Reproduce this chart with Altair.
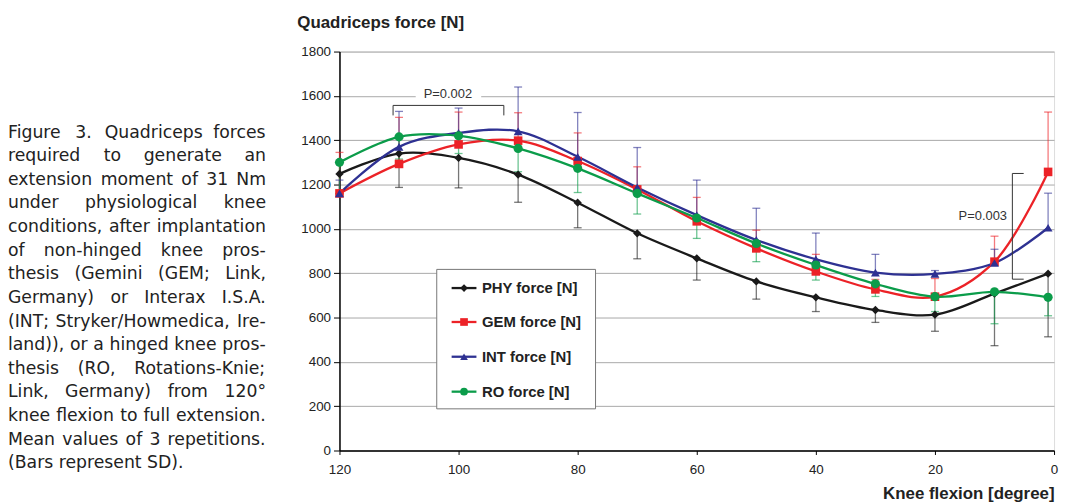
import altair as alt
import pandas as pd

# ---------------- data ----------------
angles = [120, 110, 100, 90, 80, 70, 60, 50, 40, 30, 20, 10, 1]
series_names = ["PHY force [N]", "GEM force [N]", "INT force [N]", "RO force [N]"]
phy = [1248, 1340, 1320, 1245, 1118, 980, 867, 763, 691, 634, 613, 708, 798]
phy_sd = [90, 153, 135, 125, 113, 115, 98, 80, 64, 56, 75, 235, 285]
gem = [1160, 1293, 1381, 1398, 1306, 1178, 1034, 912, 808, 727, 694, 852, 1257]
gem_sd = [185, 210, 146, 126, 127, 102, 108, 82, 77, 45, 82, 115, 270]
intx = [1160, 1370, 1433, 1440, 1325, 1187, 1062, 950, 863, 803, 797, 846, 1005]
int_sd = [60, 160, 112, 200, 200, 180, 158, 143, 118, 82, 15, 62, 156]
ro = [1300, 1415, 1420, 1363, 1273, 1160, 1049, 934, 837, 752, 694, 716, 691]
ro_sd = [140, 100, 80, 105, 109, 93, 92, 82, 68, 57, 67, 144, 83]
bar_sign = [-1, 1, 1, -1]          # which side the SD bar is drawn on

colors = ["#1a1a1a", "#ec2227", "#2e3192", "#0b9c4a"]
shapes = ["diamond", "square", "triangle-up", "circle"]
sizes = [70, 85, 105, 120]

y_ticks = [0, 200, 400, 600, 800, 1000, 1200, 1400, 1600, 1800]
x_ticks = [120, 100, 80, 60, 40, 20, 0]

# annotation brackets (degree, force)
br_x = [111, 111, 92.4, 7, 7, 7]
br_x2 = [92.4, 111, 92.4, 7, 5.1, 5.1]
br_y = [1557, 1557, 1557, 1250, 1250, 773]
br_y2 = [1557, 1512, 1512, 773, 1250, 773]
p_labels = ["P=0.002", "P=0.003"]
p_x = [101.8, 7.9]
p_y = [1607, 1057]

caption_lines = [
    "Figure 3. Quadriceps forces",
    "required to generate an",
    "extension moment of 31 Nm",
    "under physiological knee",
    "conditions, after implantation",
    "of non-hinged knee pros-",
    "thesis (Gemini (GEM; Link,",
    "Germany) or Interax I.S.A.",
    "(INT; Stryker/Howmedica, Ire-",
    "land)), or a hinged knee pros-",
    "thesis (RO, Rotations-Knie;",
    "Link, Germany) from 120°",
    "knee flexion to full extension.",
    "Mean values of 3 repetitions.",
    "(Bars represent SD).",
]

# ---------------- tables ----------------
vals = [phy, gem, intx, ro]
sds = [phy_sd, gem_sd, int_sd, ro_sd]
rows = []
for si, name in enumerate(series_names):
    for a, v, s in zip(angles, vals[si], sds[si]):
        rows.append({"angle": a, "series": name, "value": v,
                     "end": v + bar_sign[si] * s, "order": si})
df = pd.DataFrame(rows)

color_scale = alt.Scale(domain=series_names, range=colors)
shape_scale = alt.Scale(domain=series_names, range=shapes)
size_scale = alt.Scale(domain=series_names, range=sizes)

W, H = 720, 402
x_enc = alt.X("angle:Q", scale=alt.Scale(domain=[120, 0], nice=False, zero=False),
              axis=alt.Axis(values=x_ticks, format="d", title="Knee flexion [degree]",
                            grid=False,
                            domainColor="#000", domainWidth=1.5, tickColor="#000",
                            tickSize=4, labelFont="Liberation Sans", labelFontSize=13.5,
                            labelColor="#222", labelPadding=8, labelFlush=False,
                            titleFont="Liberation Sans", titleFontSize=17,
                            titleFontWeight="bold", titleColor="#222",
                            titleAnchor="end", titleAlign="right", titleX=W, titleY=48,
                            titleBaseline="alphabetic"))
y_enc = alt.Y("value:Q", scale=alt.Scale(domain=[0, 1800], nice=False),
              axis=alt.Axis(values=y_ticks, format="d", title="Quadriceps force [N]",
                            grid=True,
                            gridColor="#a8a8a8", gridWidth=1, domainColor="#000",
                            domainWidth=1.5, tickColor="#000", tickSize=6,
                            labelFont="Liberation Sans", labelFontSize=13.5,
                            labelColor="#222", labelPadding=3,
                            titleFont="Liberation Sans", titleFontSize=17,
                            titleFontWeight="bold", titleColor="#222", titleAngle=0,
                            titleAlign="left", titleX=-43, titleY=-24,
                            titleBaseline="alphabetic"))

base = alt.Chart(df)

bars = base.mark_rule(strokeWidth=1.3, opacity=0.6).encode(
    x=x_enc, y=y_enc, y2="end:Q",
    color=alt.Color("series:N", scale=color_scale, legend=None))
caps = base.mark_tick(orient="horizontal", size=8, thickness=1.3, opacity=0.6).encode(
    x="angle:Q", y="end:Q",
    color=alt.Color("series:N", scale=color_scale, legend=None))
lines = base.mark_line(interpolate="catmull-rom", strokeWidth=2.3).encode(
    x="angle:Q", y="value:Q",
    color=alt.Color("series:N", scale=color_scale, legend=None),
    order="order:Q", detail="series:N")
points = base.mark_point(filled=True, opacity=1).encode(
    x="angle:Q", y="value:Q",
    color=alt.Color("series:N", scale=color_scale, legend=None),
    shape=alt.Shape("series:N", scale=shape_scale, legend=None),
    size=alt.Size("series:N", scale=size_scale, legend=None))

# annotations
br_df = pd.DataFrame({"x": br_x, "x2": br_x2, "y": br_y, "y2": br_y2})
brackets = alt.Chart(br_df).mark_rule(color="#333", strokeWidth=1).encode(
    x="x:Q", x2="x2:Q", y="y:Q", y2="y2:Q")
p_df = pd.DataFrame({"t": p_labels, "x": p_x, "y": p_y})
p_bg = alt.Chart(p_df.iloc[[0]]).mark_rect(color="white").encode(
    x=alt.datum(107.2), x2=alt.datum(96.2), y=alt.datum(1575), y2=alt.datum(1640))
p_txt1 = alt.Chart(p_df.iloc[[0]]).mark_text(
    font="Liberation Sans", fontSize=13, color="#333", align="center",
    baseline="middle").encode(x="x:Q", y="y:Q", text="t:N")
p_txt2 = alt.Chart(p_df.iloc[[1]]).mark_text(
    font="Liberation Sans", fontSize=13, color="#333", align="right",
    baseline="middle").encode(x="x:Q", y="y:Q", text="t:N")

# legend (drawn manually)
leg_df = pd.DataFrame({"series": series_names, "ly": [238.3, 272.5, 307.5, 342.7]})
leg_box = alt.Chart(pd.DataFrame({"a": [0]})).mark_rect(
    fill="white", stroke="#777", strokeWidth=1).encode(
    x=alt.value(98), x2=alt.value(258), y=alt.value(219.5), y2=alt.value(360))
leg_line = alt.Chart(leg_df).mark_rule(strokeWidth=2.3).encode(
    x=alt.value(113), x2=alt.value(138), y=alt.Y("ly:Q", scale=None),
    color=alt.Color("series:N", scale=color_scale, legend=None))
leg_pt = alt.Chart(leg_df).mark_point(filled=True, opacity=1).encode(
    x=alt.value(125.5), y=alt.Y("ly:Q", scale=None),
    color=alt.Color("series:N", scale=color_scale, legend=None),
    shape=alt.Shape("series:N", scale=shape_scale, legend=None),
    size=alt.value(60))
leg_txt = alt.Chart(leg_df).mark_text(
    font="Liberation Sans", fontSize=15, fontWeight="bold", color="#222",
    align="left", baseline="middle").encode(
    x=alt.value(143.5), y=alt.Y("ly:Q", scale=None), text="series:N")

# caption, justified word by word (DejaVu Sans advance widths, em units)
CW = {" ": .318, "(": .390, ")": .390, ",": .318, ".": .318, ";": .337, "/": .337,
      "-": .361, "°": .5, "A": .684, "B": .686, "C": .698, "D": .770, "E": .632,
      "F": .575, "G": .775, "H": .752, "I": .295, "K": .656, "L": .557, "M": .863,
      "N": .748, "O": .787, "R": .695, "S": .635, "T": .611, "Y": .611, "U": .732,
      "a": .613, "b": .635, "c": .550, "d": .635, "e": .615, "f": .352, "g": .635,
      "h": .634, "i": .278, "k": .579, "l": .278, "m": .974, "n": .634, "o": .612,
      "p": .635, "q": .635, "r": .411, "s": .521, "t": .392, "u": .634, "v": .592,
      "w": .818, "x": .592, "y": .592, "z": .525}
FS_CAP = 17.4
CAP_W = 260
CAP_X0 = -334


def text_w(s):
    return sum(CW.get(ch, .636) for ch in s) * FS_CAP


cap_rows = []
for i, line in enumerate(caption_lines):
    cy = 86.7 + i * 23.8
    words = line.split(" ")
    if i == len(caption_lines) - 1:
        cap_rows.append({"w": line, "cx": CAP_X0, "cy": cy})
        continue
    widths = [text_w(w) for w in words]
    gap = (CAP_W - sum(widths)) / (len(words) - 1)
    cx = CAP_X0
    for w, wd in zip(words, widths):
        cap_rows.append({"w": w, "cx": cx, "cy": cy})
        cx += wd + gap
cap_df = pd.DataFrame(cap_rows)
caption = alt.Chart(cap_df).mark_text(
    font="DejaVu Sans", fontSize=FS_CAP, color="#222", align="left",
    baseline="alphabetic").encode(
    x=alt.X("cx:Q", scale=None), y=alt.Y("cy:Q", scale=None), text="w:N")

chart = alt.layer(
    bars, p_bg, caps, lines, points, brackets, p_txt1, p_txt2,
    leg_box, leg_line, leg_pt, leg_txt, caption
).properties(
    width=W, height=H,
    autosize=alt.AutoSizeParams(type="none"),
    padding={"left": 334, "top": 42, "right": 6, "bottom": 51},
).configure_view(stroke="#999", strokeWidth=1).configure(background="white")

chart.save("out.html", embed_options={"renderer": "svg", "actions": False})
